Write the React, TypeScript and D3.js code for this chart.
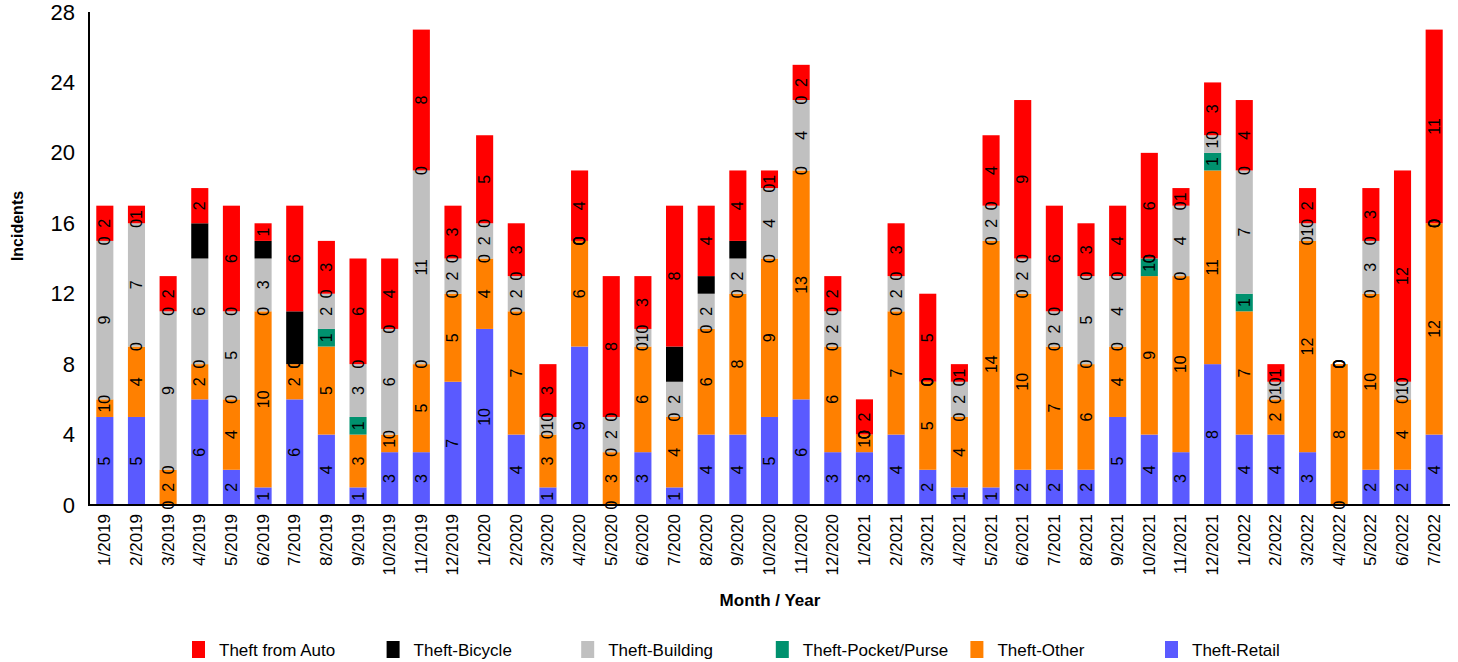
import React from 'react';
import * as d3 from 'd3';

const months = [
  '1/2019','2/2019','3/2019','4/2019','5/2019','6/2019','7/2019','8/2019','9/2019','10/2019','11/2019','12/2019',
  '1/2020','2/2020','3/2020','4/2020','5/2020','6/2020','7/2020','8/2020','9/2020','10/2020','11/2020','12/2020',
  '1/2021','2/2021','3/2021','4/2021','5/2021','6/2021','7/2021','8/2021','9/2021','10/2021','11/2021','12/2021',
  '1/2022','2/2022','3/2022','4/2022','5/2022','6/2022','7/2022'
];

const theftRetail = [5,5,0,6,2,1,6,4,1,3,3,7, 10,4,1,9,0,3,1,4,4,5,6,3, 3,4,2,1,1,2,2,2,5,4,3,8, 4,4,3,0,2,2,4];
const theftOther = [1,4,2,2,4,10,2,5,3,1,5,5, 4,7,3,6,3,6,4,6,8,9,13,6, 1,7,5,4,14,10,7,6,4,9,10,11, 7,2,12,8,10,4,12];
const theftPocket = [0,0,0,0,0,0,0,1,1,0,0,0, 0,0,0,0,0,0,0,0,0,0,0,0, 0,0,0,0,0,0,0,0,0,1,0,1, 1,0,0,0,0,0,0];
const theftBuilding = [9,7,9,6,5,3,0,2,3,6,11,2, 2,2,1,0,2,1,2,2,2,4,4,2, 0,2,0,2,2,2,2,5,4,0,4,1, 7,1,1,0,3,1,0];
const theftBicycle = [0,0,0,2,0,1,3,0,0,0,0,0, 0,0,0,0,0,0,2,1,1,0,0,0, 0,0,0,0,0,0,0,0,0,0,0,0, 0,0,0,0,0,0,0];
const theftAuto = [2,1,2,2,6,1,6,3,6,4,8,3, 5,3,3,4,8,3,8,4,4,1,2,2, 2,3,5,1,4,9,6,3,4,6,1,3, 4,1,2,0,3,12,11];

const yTicks = [0, 4, 8, 12, 16, 20, 24, 28];

// stacking order bottom -> top
const series = [
  { name: 'Theft-Retail', values: theftRetail, color: '#5A5AFF' },
  { name: 'Theft-Other', values: theftOther, color: '#FF8000' },
  { name: 'Theft-Pocket/Purse', values: theftPocket, color: '#00916E' },
  { name: 'Theft-Building', values: theftBuilding, color: '#C0C0C0' },
  { name: 'Theft-Bicycle', values: theftBicycle, color: '#000000' },
  { name: 'Theft from Auto', values: theftAuto, color: '#FF0000' },
];

const legendOrder = ['Theft from Auto', 'Theft-Bicycle', 'Theft-Building', 'Theft-Pocket/Purse', 'Theft-Other', 'Theft-Retail'];

const W = 1458;
const H = 662;
const FONT = 'Arial, "Liberation Sans", sans-serif';

export default function App() {
  const left = 89, right = 1450, top = 12, bottom = 505;
  const x = d3.scaleBand<string>().domain(months).range([left, right]).paddingInner(0.46).paddingOuter(0.23);
  const y = d3.scaleLinear().domain([0, 28]).range([bottom, top]);

  const rows = months.map((m, i) => {
    const r: any = { month: m };
    series.forEach(s => { r[s.name] = s.values[i]; });
    return r;
  });
  const stacked = d3.stack<any>().keys(series.map(s => s.name))(rows);

  const bw = x.bandwidth();

  return (
    <svg width={W} height={H} style={{ position: 'absolute', left: 0, top: 0, background: '#fff' }} fontFamily={FONT}>
      {/* bars */}
      {stacked.map((layer, si) => (
        <g key={layer.key} fill={series[si].color}>
          {layer.map((d, i) => (
            d[1] - d[0] > 0 ? (
              <rect key={i} x={x(months[i])!} y={y(d[1])} width={bw} height={y(d[0]) - y(d[1])} />
            ) : null
          ))}
        </g>
      ))}
      {/* data labels */}
      {stacked.map((layer, si) => (
        <g key={'l' + layer.key} fontSize={16} fill="#000">
          {layer.map((d, i) => {
            const cx = x(months[i])! + bw / 2;
            const cy = y((d[0] + d[1]) / 2);
            return (
              <text key={i} transform={`translate(${cx},${cy}) rotate(-90)`} textAnchor="middle" dominantBaseline="central">
                {series[si].values[i]}
              </text>
            );
          })}
        </g>
      ))}
      {/* axes */}
      <line x1={left} x2={left} y1={top} y2={bottom} stroke="#000" strokeWidth={2} />
      <line x1={left - 1} x2={right} y1={bottom} y2={bottom} stroke="#000" strokeWidth={2} />
      {yTicks.map(t => (
        <text key={t} x={75} y={y(t)} textAnchor="end" dominantBaseline="central" fontSize={22} fill="#000">{t}</text>
      ))}
      {months.map(m => (
        <text key={m} transform={`translate(${x(m)! + bw / 2},${514}) rotate(-90)`} textAnchor="end" dominantBaseline="central" fontSize={17} fill="#000">{m}</text>
      ))}
      <text transform={`translate(17,226) rotate(-90)`} textAnchor="middle" dominantBaseline="central" fontSize={16} fontWeight="bold">Incidents</text>
      <text x={770} y={600} textAnchor="middle" dominantBaseline="central" fontSize={17} fontWeight="bold">Month / Year</text>
      {/* legend */}
      {legendOrder.map((name, i) => {
        const s = series.find(ss => ss.name === name)!;
        const lx = 192 + i * 194.6;
        return (
          <g key={name}>
            <rect x={lx} y={641} width={13} height={17} fill={s.color} />
            <text x={lx + 27} y={650} dominantBaseline="central" fontSize={17}>{name}</text>
          </g>
        );
      })}
    </svg>
  );
}
